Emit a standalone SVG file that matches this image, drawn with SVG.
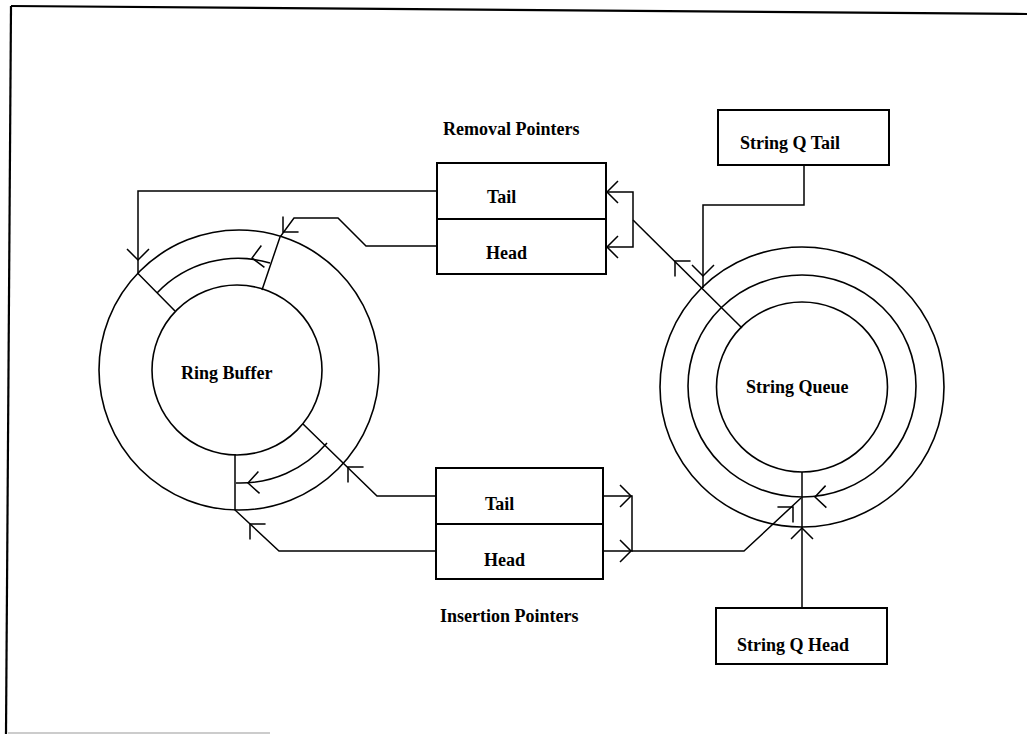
<svg xmlns="http://www.w3.org/2000/svg" xmlns:xlink="http://www.w3.org/1999/xlink" width="1027" height="734" viewBox="0 0 1027 734">
<style>
.ln{fill:none;stroke:#000;stroke-width:1.5;stroke-linejoin:miter}
.box{fill:#fff;stroke:#000;stroke-width:2}
.circ{fill:none;stroke:#000;stroke-width:1.6}
.ah{fill:none;stroke:#000;stroke-width:1.5}
.brd{fill:none;stroke:#000;stroke-width:2.2}
text{font-family:"Liberation Serif","Times New Roman",serif;font-weight:bold;font-size:18px;fill:#000}
</style>
<defs>
<path id="ah" d="M-11,-11 L0,0 L-11,11"/>
</defs>
<rect width="1027" height="734" fill="#fff"/>
<g id="border">
<path class="brd" d="M11,6 L1027,14"/>
<path class="brd" d="M11,6 L6,734"/>
<path d="M8,733 L270,733" stroke="#bbb" stroke-width="1.5" fill="none"/>
</g>
<g id="ring-buffer">
<circle class="circ" cx="239" cy="370" r="140"/>
<circle class="circ" cx="237" cy="370" r="85"/>
<text x="181" y="379">Ring Buffer</text>
</g>
<g id="string-queue">
<ellipse class="circ" cx="802" cy="387" rx="142" ry="140"/>
<ellipse class="circ" cx="802" cy="386" rx="114" ry="111"/>
<ellipse class="circ" cx="802" cy="387" rx="85.5" ry="85"/>
<text x="746" y="393">String Queue</text>
</g>
<g id="removal-pointers">
<text x="443" y="135">Removal Pointers</text>
<rect class="box" x="437" y="163" width="169" height="111"/>
<line class="box" x1="437" y1="219" x2="606" y2="219"/>
<text x="487" y="203">Tail</text>
<text x="486" y="259">Head</text>
</g>
<g id="insertion-pointers">
<rect class="box" x="436" y="468" width="167" height="111"/>
<line class="box" x1="436" y1="524" x2="603" y2="524"/>
<text x="485" y="510">Tail</text>
<text x="484" y="566">Head</text>
<text x="440" y="622">Insertion Pointers</text>
</g>
<g id="string-q-tail">
<rect class="box" x="718" y="110" width="171" height="55"/>
<text x="740" y="149">String Q Tail</text>
</g>
<g id="string-q-head">
<rect class="box" x="716" y="608" width="171" height="56"/>
<text x="737" y="651">String Q Head</text>
</g>
<g id="connectors">
<polyline class="ln" points="437,191 138,191 138,273.5 175,311"/>
<polyline class="ln" points="437,246 366,246 338,218 294,218 280,237 262,290"/>
<path class="ln" d="M270,263 A112,112 0 0 0 157,293"/>
<polyline class="ln" points="436,496 377,496 303,424"/>
<path class="ln" d="M327,443 A114,114 0 0 1 236,483"/>
<polyline class="ln" points="235,454 235,510 279,551 436,551"/>
<polyline class="ln" points="606,192 633,192 633,247 606,247"/>
<polyline class="ln" points="633,220 742,328"/>
<polyline class="ln" points="804,165 804,205 703,205 703,288"/>
<polyline class="ln" points="603,496 632,496 632,551 603,551"/>
<polyline class="ln" points="632,551 744,551 801,498"/>
<line class="ln" x1="802" y1="472" x2="802" y2="608"/>
<use xlink:href="#ah" class="ah" transform="translate(138,260) rotate(90)"/>
<use xlink:href="#ah" class="ah" transform="translate(283,232) rotate(135)"/>
<use xlink:href="#ah" class="ah" transform="translate(252,258) rotate(172)"/>
<use xlink:href="#ah" class="ah" transform="translate(248,483) rotate(177)"/>
<use xlink:href="#ah" class="ah" transform="translate(348,467) rotate(225)"/>
<use xlink:href="#ah" class="ah" transform="translate(250,524) rotate(225)"/>
<use xlink:href="#ah" class="ah" transform="translate(607,192) rotate(180)"/>
<use xlink:href="#ah" class="ah" transform="translate(607,247) rotate(180)"/>
<use xlink:href="#ah" class="ah" transform="translate(675,261) rotate(225)"/>
<use xlink:href="#ah" class="ah" transform="translate(703,276) rotate(90)"/>
<use xlink:href="#ah" class="ah" transform="translate(631,496) rotate(0)"/>
<use xlink:href="#ah" class="ah" transform="translate(631,551) rotate(0)"/>
<use xlink:href="#ah" class="ah" transform="translate(815,497) rotate(178)"/>
<use xlink:href="#ah" class="ah" transform="translate(793,507) rotate(-45)"/>
<use xlink:href="#ah" class="ah" transform="translate(802,528) rotate(270)"/>
</g>
</svg>
